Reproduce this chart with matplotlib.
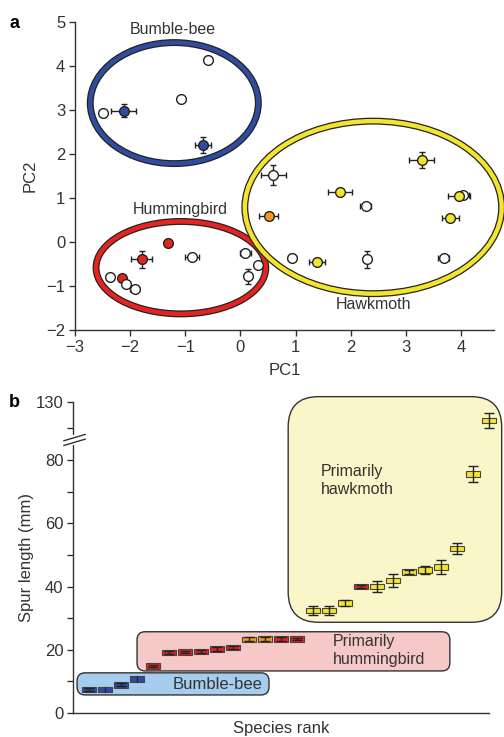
import matplotlib
matplotlib.use("Agg")
import matplotlib.pyplot as plt
from matplotlib.patches import Ellipse, FancyBboxPatch
import matplotlib.transforms as mtransforms

plt.rcParams['font.family'] = ['Liberation Sans', 'DejaVu Sans']

# ---------------- Panel a data ----------------
pc1 = [-0.58, -1.08, -2.50, -2.12, -0.68,
       -1.32, -1.79, -2.15, -2.37, -2.08, -1.92, -0.88, 0.09, 0.31, 0.13,
       0.60, 0.51, 1.81, 2.27, 3.29, 4.04, 3.97, 3.81, 0.94, 1.39, 2.30, 3.69]
pc2 = [4.14, 3.25, 2.93, 2.99, 2.21,
       -0.03, -0.39, -0.81, -0.79, -0.94, -1.06, -0.34, -0.24, -0.53, -0.78,
       1.53, 0.59, 1.15, 0.82, 1.86, 1.08, 1.05, 0.55, -0.35, -0.44, -0.39, -0.36]
pc1_err = [0, 0, 0, 0.23, 0.145,
           0, 0.19, 0, 0.05, 0, 0.08, 0.13, 0.10, 0, 0,
           0.22, 0.18, 0.22, 0.10, 0.23, 0.10, 0.20, 0.16, 0.07, 0.15, 0.03, 0.10]
pc2_err = [0, 0, 0, 0.14, 0.19,
           0, 0.20, 0, 0, 0, 0, 0.03, 0.05, 0, 0.17,
           0.23, 0, 0, 0.05, 0.18, 0, 0, 0, 0.07, 0.03, 0.19, 0]
pt_group = ['open', 'open', 'open', 'bee', 'bee',
            'hum', 'hum', 'hum', 'open', 'open', 'open', 'open', 'open', 'open', 'open',
            'open', 'orange', 'hawk', 'open', 'hawk', 'open', 'hawk', 'hawk', 'open', 'hawk', 'open', 'open']

ell_names = ['Bumble-bee', 'Hummingbird', 'Hawkmoth']
ell_cx = [-1.20, -1.08, 2.41]
ell_cy = [3.16, -0.58, 0.79]
ell_w = [3.05, 3.08, 4.66]
ell_h = [2.75, 2.10, 3.92]
ell_group = ['bee', 'hum', 'hawk']
ell_label_x = [-1.22, -1.09, 2.41]
ell_label_y = [4.83, 0.75, -1.42]

# ---------------- Panel b data ----------------
spur_len = [7.5, 7.5, 8.9, 10.8, 14.9, 19.2, 19.3, 19.4, 20.2, 20.7,
            23.3, 23.4, 23.4, 23.4, 32.4, 32.4, 34.8, 40.1, 40.1, 41.9,
            44.6, 45.3, 46.2, 52.1, 75.6, 122.8]
spur_err = [0.4, 0.0, 0.5, 0.0, 0.4, 0.5, 0.4, 0.5, 0.6, 0.5,
            0.6, 0.5, 0.5, 0.4, 1.3, 1.3, 1.0, 0.4, 1.8, 2.0,
            0.7, 1.3, 2.3, 1.8, 2.5, 2.8]
pollinator = ['bee'] * 4 + ['hum'] * 6 + ['orange'] * 2 + ['hum'] * 2 + \
             ['hawk'] * 3 + ['hum'] + ['hawk'] * 8
yticks_low = [0, 20, 40, 60, 80]
yminor_low = [10, 30, 50, 70]
yticks_high = [130]
yminor_high = [120]

colors = {'bee': '#2f4c9e', 'hum': '#e52421', 'orange': '#f29a1f',
          'hawk': '#f3e52c', 'open': 'white'}
bg_colors = {'bee': '#a7cdee', 'hum': '#f7c8c8', 'hawk': '#faf6c9'}

BREAK = 86.4


def ymap(v):
    if v <= BREAK:
        return v
    return 98.4 + (v - 130.0) * 0.82


fig = plt.figure(figsize=(5.04, 7.37), dpi=100)

# ================= Panel a =================
ax = fig.add_axes([0.149, 0.552, 0.831, 0.418])
ax.set_xlim(-3, 4.6)
ax.set_ylim(-2, 5)
for s in ['top', 'right']:
    ax.spines[s].set_visible(False)
for s in ['left', 'bottom']:
    ax.spines[s].set_color('#333333')
    ax.spines[s].set_linewidth(1.0)
ax.set_xticks(range(-3, 5))
ax.set_xticklabels(['\u22123', '\u22122', '\u22121', '0', '1', '2', '3', '4'])
ax.set_yticks(range(-2, 6))
ax.set_yticklabels(['\u22122', '\u22121', '0', '1', '2', '3', '4', '5'])
ax.tick_params(direction='out', length=4, width=1, color='#333333',
               labelsize=12, labelcolor='#333333', pad=3)
ax.set_xlabel('PC1', fontsize=12, color='#333333', labelpad=6)
ax.set_ylabel('PC2', fontsize=12, color='#333333', labelpad=6)

for i in range(3):
    for lw, col in [(5.0, '#222222'), (3.2, colors[ell_group[i]])]:
        e = Ellipse((ell_cx[i], ell_cy[i]), ell_w[i], ell_h[i], fill=False,
                    edgecolor=col, linewidth=lw, clip_on=False, zorder=2)
        ax.add_patch(e)
    ax.text(ell_label_x[i], ell_label_y[i], ell_names[i], ha='center', va='center',
            fontsize=11.5, color='#333333')

for i in range(len(pc1)):
    ax.errorbar(pc1[i], pc2[i], xerr=pc1_err[i] if pc1_err[i] > 0 else None,
                yerr=pc2_err[i] if pc2_err[i] > 0 else None,
                fmt='none', ecolor='#222222', elinewidth=1, capsize=2, capthick=1, zorder=3)
    ax.plot(pc1[i], pc2[i], 'o', markersize=7, markerfacecolor=colors[pt_group[i]],
            markeredgecolor='#222222', markeredgewidth=1, zorder=4, clip_on=False)

fig.text(0.018, 0.968, 'a', fontsize=13, fontweight='bold', va='center')

# ================= Panel b =================
bx = fig.add_axes([0.145, 0.0326, 0.825, 0.4219])
bx.set_xlim(0, 26)
bx.set_ylim(0, 98.4)
for s in ['top', 'right']:
    bx.spines[s].set_visible(False)
for s in ['left', 'bottom']:
    bx.spines[s].set_color('#333333')
    bx.spines[s].set_linewidth(1.0)
bx.set_xticks([])
bx.set_yticks([ymap(v) for v in yticks_low + yticks_high])
bx.set_yticklabels([str(v) for v in yticks_low + yticks_high])
bx.set_yticks([ymap(v) for v in yminor_low + yminor_high], minor=True)
bx.tick_params(axis='y', which='both', direction='out', length=4, width=1,
               color='#333333', labelsize=12, labelcolor='#333333', pad=3)
bx.set_xlabel('Species rank', fontsize=12, color='#333333', labelpad=6)
bx.set_ylabel('Spur length (mm)', fontsize=12, color='#333333', labelpad=1)

# aspect for rounded corners
fig.canvas.draw()
p0 = bx.transData.transform((0, 0))
p1 = bx.transData.transform((1, 1))
px_x = p1[0] - p0[0]
px_y = p1[1] - p0[1]
asp = px_x / px_y

bg_boxes = [('bee', 0.25, 12.25, 5.7, 12.7, 0.5),
            ('hum', 4.0, 23.56, 13.3, 25.7, 0.5),
            ('hawk', 13.45, 26.8, 28.7, 100.1, 1.9)]
for g, x0, x1, y0, y1, r in bg_boxes:
    p = FancyBboxPatch((x0, y0), x1 - x0, y1 - y0,
                       boxstyle='round,pad=0,rounding_size=%f' % r,
                       mutation_aspect=asp, facecolor=bg_colors[g],
                       edgecolor='#333333', linewidth=1.0, clip_on=False, zorder=1)
    bx.add_patch(p)

bx.text(15.5, 73.5, 'Primarily\nhawkmoth', fontsize=11.5, color='#333333',
        ha='left', va='center', linespacing=1.25, zorder=2)
bx.text(16.25, 19.7, 'Primarily\nhummingbird', fontsize=11.5, color='#333333',
        ha='left', va='center', linespacing=1.25, zorder=2)
bx.text(6.2, 8.9, 'Bumble-bee', fontsize=12, color='#333333',
        ha='left', va='center', zorder=2)

ranks = list(range(1, len(spur_len) + 1))
yv = [ymap(v) for v in spur_len]
bh = 1.7
bx.bar(ranks, [bh] * len(ranks), bottom=[y - bh / 2 for y in yv], width=0.83,
       color=[colors[p] for p in pollinator], edgecolor='#444444', linewidth=0.8,
       zorder=3, clip_on=False)
for i in range(len(ranks)):
    if spur_err[i] > 0:
        lo = ymap(spur_len[i] - spur_err[i]) if spur_len[i] > BREAK else spur_len[i] - spur_err[i]
        hi = ymap(spur_len[i] + spur_err[i]) if spur_len[i] > BREAK else spur_len[i] + spur_err[i]
        bx.errorbar(ranks[i], yv[i], yerr=[[yv[i] - lo], [hi - yv[i]]], fmt='none',
                    ecolor='#222222', elinewidth=1, capsize=3.5, capthick=1,
                    zorder=4, clip_on=False)
    else:
        bx.plot([ranks[i], ranks[i]], [yv[i] - bh / 2, yv[i] + bh / 2], color='#222222',
                lw=0.8, zorder=4, clip_on=False)

# axis break marks
trans = mtransforms.blended_transform_factory(bx.transAxes, bx.transData)
bx.plot([0, 0], [BREAK - 0.9, BREAK + 0.9], color='white', lw=3, transform=trans,
        clip_on=False, zorder=6)
for dy in (-0.75, 0.75):
    bx.plot([-0.022, 0.029], [BREAK + dy - 1.0, BREAK + dy + 1.0], color='#333333',
            lw=1, transform=trans, clip_on=False, zorder=7)

fig.text(0.018, 0.4545, 'b', fontsize=13, fontweight='bold', va='center')

fig.savefig('out.png', dpi=100)
